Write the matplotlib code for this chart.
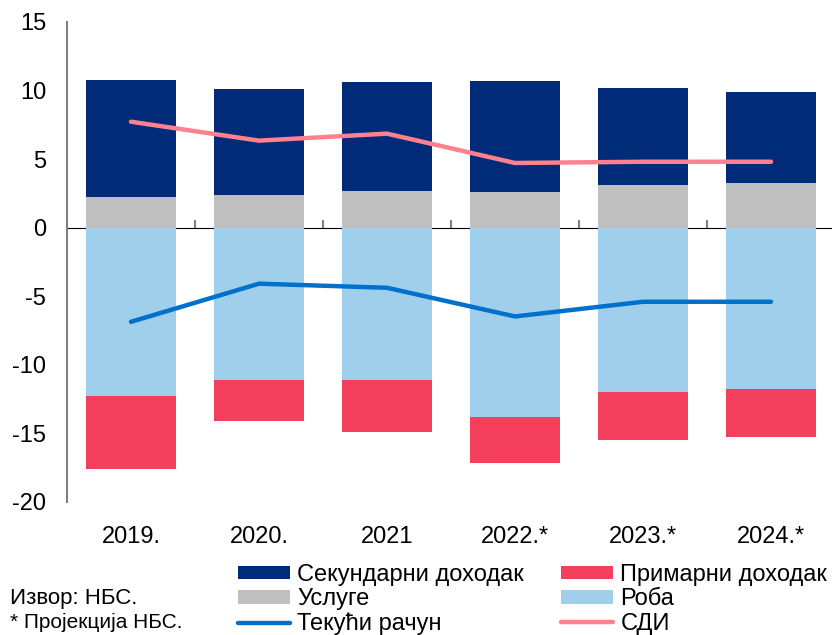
import matplotlib.pyplot as plt
import numpy as np

plt.rcParams['font.family'] = ['Liberation Sans', 'DejaVu Sans']
plt.rcParams['axes.unicode_minus'] = False

# Datos (% BDP-a), očitano sa grafika
years = ['2019.', '2020.', '2021', '2022.*', '2023.*', '2024.*']
usluge = [2.21, 2.41, 2.70, 2.63, 3.11, 3.23]
sekundarni = [8.56, 7.70, 7.93, 8.09, 7.10, 6.69]
roba = [-12.25, -11.09, -11.09, -13.81, -12.01, -11.79]
primarni = [-5.38, -2.99, -3.81, -3.36, -3.48, -3.50]
tekuci = [-6.86, -4.08, -4.38, -6.47, -5.40, -5.40]
sdi = [7.73, 6.35, 6.86, 4.72, 4.81, 4.81]

fig = plt.figure(figsize=(8.32, 6.35), dpi=100)
ax = fig.add_axes([67 / 832, 1 - 502 / 635, 768 / 832, 480 / 635])

x = np.arange(len(years))
w = 0.71
usl = np.array(usluge)
rob = np.array(roba)

b_sek = ax.bar(x, sekundarni, w, bottom=usl, color='#002B78', label='Секундарни доходак')
b_usl = ax.bar(x, usl, w, color='#BFBFBF', label='Услуге')
b_rob = ax.bar(x, rob, w, color='#A0CFEB', label='Роба')
b_pri = ax.bar(x, primarni, w, bottom=rob, color='#F5405D', label='Примарни доходак')
l_tek, = ax.plot(x, tekuci, color='#0070CD', lw=3.2, solid_capstyle='round', label='Текући рачун')
l_sdi, = ax.plot(x, sdi, color='#FF808F', lw=3.2, solid_capstyle='round', label='СДИ')

ymin, ymax = -20, 15
ax.set_ylim(ymin, ymax)
ax.set_xlim(-0.5, len(years) - 0.5)
ax.set_yticks(np.arange(-20, 16, 5))
ax.set_xticks(x)
ax.set_xticklabels(years)
ax.tick_params(axis='both', length=0, labelsize=17, colors='black')
ax.tick_params(axis='y', pad=15)
ax.tick_params(axis='x', pad=17)

for s in ['top', 'right', 'bottom']:
    ax.spines[s].set_visible(False)
ax.spines['left'].set_color('#808080')
ax.spines['left'].set_linewidth(1.5)

# nulta linija sa podeocima između kategorija
zero = ax.secondary_xaxis((0 - ymin) / (ymax - ymin))
zero.set_xticks(x[:-1] + 0.5)
zero.set_xticklabels([])
zero.tick_params(direction='out', length=6, width=1.5, color='#808080')
zero.spines['bottom'].set_color('#808080')
zero.spines['bottom'].set_linewidth(1.8)

handles = [b_sek, b_usl, l_tek, b_pri, b_rob, l_sdi]
fig.legend(handles=handles, labels=[h.get_label() for h in handles], ncol=2,
           loc='upper left', bbox_to_anchor=(238 / 832, 1 - 564 / 635),
           frameon=False, fontsize=17, handlelength=2.2, handleheight=0.5,
           handletextpad=0.3, labelspacing=0.1, columnspacing=1.6,
           borderaxespad=0, borderpad=0)

fig.text(10 / 832, 1 - 588 / 635, 'Извор: НБС.', fontsize=16, va='top')
fig.text(10 / 832, 1 - 613 / 635, '* Пројекција НБС.', fontsize=15, va='top')

plt.savefig('out.png')
plt.close()
